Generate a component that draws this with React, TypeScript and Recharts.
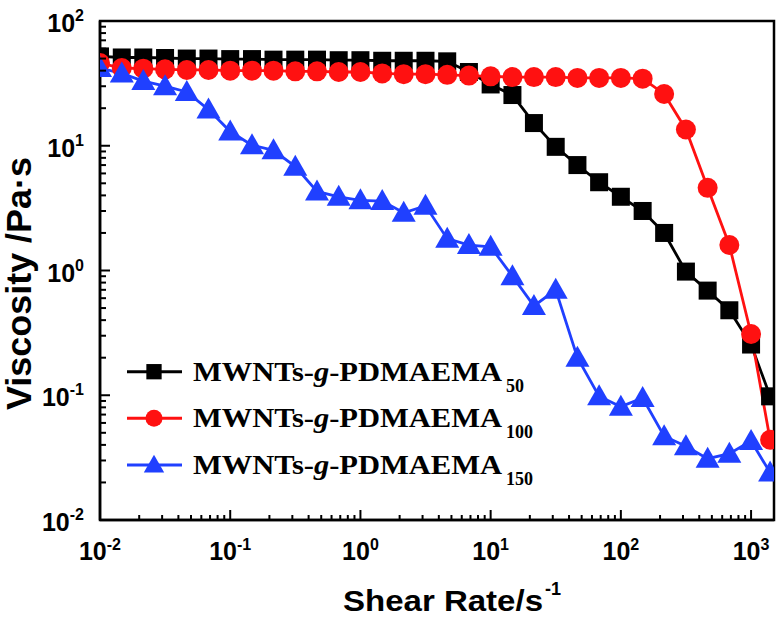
// Shear viscosity of the three MWNTs-g-PDMAEMA grafts on log-log axes,
// drawn with inward ticks and a boxed frame like the original figure.

import { Legend, Line, LineChart, ReferenceArea, XAxis, YAxis } from "recharts";

const SANS = "'Liberation Sans', Arial, Helvetica, sans-serif";
const SERIF = "'Liberation Serif', 'Times New Roman', Times, serif";

// shear rate, s^-1
const SHEAR_RATE = [
  0.01, 0.0147, 0.0215, 0.0316, 0.0464, 0.0681, 0.1, 0.147, 0.215, 0.316, 0.464, 0.681,
  1, 1.47, 2.15, 3.16, 4.64, 6.81, 10, 14.7, 21.5, 31.6, 46.4, 68.1, 100, 147, 215, 316,
  464, 681, 1000, 1400,
];

// viscosity, Pa·s
const ETA_50 = [
  52, 51, 51, 50.5, 50, 50, 49.5, 49.5, 49, 49, 49, 48.5, 48.5, 48, 48, 48, 47.5, 39, 31,
  25.5, 15.2, 9.8, 7.0, 5.1, 3.9, 3.0, 2.0, 0.98, 0.69, 0.48, 0.255, 0.098,
];
const ETA_100 = [
  46, 42, 41.5, 41, 40.5, 40.5, 40, 40, 40, 39.5, 39.5, 39, 39, 38, 37.5, 37.5, 37, 36.5,
  36, 35.5, 35.5, 35.5, 35, 35, 35, 34.5, 26, 13.5, 4.6, 1.6, 0.31, 0.044,
];
const ETA_150 = [
  42, 38, 33, 30, 27, 19.5, 13, 10.1, 9.2, 6.8, 4.3, 3.9, 3.65, 3.6, 2.9, 3.3, 1.8, 1.6,
  1.55, 0.9, 0.52, 0.7, 0.2, 0.098, 0.081, 0.095, 0.047, 0.039, 0.031, 0.034, 0.043, 0.024,
];

const X_MAJOR = [0.01, 0.1, 1, 10, 100, 1000];
const X_MINOR = [
  0.02, 0.03, 0.04, 0.05, 0.06, 0.07, 0.08, 0.09, 0.2, 0.3, 0.4, 0.5, 0.6, 0.7, 0.8, 0.9,
  2, 3, 4, 5, 6, 7, 8, 9, 20, 30, 40, 50, 60, 70, 80, 90, 200, 300, 400, 500, 600, 700,
  800, 900,
];
const Y_MAJOR = [0.01, 0.1, 1, 10, 100];
const Y_MINOR = [
  0.02, 0.03, 0.04, 0.05, 0.06, 0.07, 0.08, 0.09, 0.2, 0.3, 0.4, 0.5, 0.6, 0.7, 0.8, 0.9,
  2, 3, 4, 5, 6, 7, 8, 9, 20, 30, 40, 50, 60, 70, 80, 90,
];

const SERIES = [
  { key: "pd50", sub: "50", color: "#000000", shape: "square" },
  { key: "pd100", sub: "100", color: "#ff1111", shape: "circle" },
  { key: "pd150", sub: "150", color: "#2040ff", shape: "triangle" },
];

const data = SHEAR_RATE.map((x, i) => ({
  x,
  pd50: ETA_50[i],
  pd100: ETA_100[i],
  pd150: ETA_150[i],
}));

function Marker({ shape, cx, cy, color, s = 1 }: any) {
  if (shape === "square") {
    return <rect x={cx - 9 * s} y={cy - 9 * s} width={18 * s} height={18 * s} fill={color} />;
  }
  if (shape === "circle") {
    return <circle cx={cx} cy={cy} r={10 * s} fill={color} />;
  }
  const pts = `${cx},${cy - 12 * s} ${cx - 12 * s},${cy + 9 * s} ${cx + 12 * s},${cy + 9 * s}`;
  return <polygon points={pts} fill={color} />;
}

const expOf = (v: number) => String(Math.round(Math.log10(v)));

function XTick({ x, y, payload }: any) {
  const v = payload.value;
  const major = X_MAJOR.includes(v);
  return (
    <g>
      <line x1={x} x2={x} y1={y} y2={y - (major ? 10 : 5)} stroke="#000" strokeWidth={2} />
      {major && (
        <text x={x} y={y + 40} textAnchor="middle" fontFamily={SANS} fontWeight="bold" fontSize={25} fill="#000">
          10
          <tspan dy={-10} fontSize={16}>
            {expOf(v)}
          </tspan>
        </text>
      )}
    </g>
  );
}

function YTick({ x, y, payload }: any) {
  const v = payload.value;
  const major = Y_MAJOR.includes(v);
  return (
    <g>
      <line x1={x} x2={x + (major ? 10 : 6)} y1={y} y2={y} stroke="#000" strokeWidth={2} />
      {major && (
        <text x={x - 16} y={y + 11} textAnchor="end" fontFamily={SANS} fontWeight="bold" fontSize={25} fill="#000">
          10
          <tspan dy={-11} fontSize={16}>
            {expOf(v)}
          </tspan>
        </text>
      )}
    </g>
  );
}

function XTitle() {
  return (
    <g fontFamily={SANS} fontWeight="bold" fill="#000">
      <text x={343} y={611} fontSize={30} textLength={200} lengthAdjust="spacingAndGlyphs">
        Shear Rate/s
      </text>
      <text x={545} y={595} fontSize={18}>
        -1
      </text>
    </g>
  );
}

function YTitle() {
  return (
    <text
      x={31}
      y={283.5}
      transform="rotate(-90 31 283.5)"
      textAnchor="middle"
      fontFamily={SANS}
      fontWeight="bold"
      fontSize={35}
      fill="#000"
      textLength={253}
      lengthAdjust="spacingAndGlyphs"
    >
      Viscosity /Pa·s
    </text>
  );
}

function LegendBox() {
  return (
    <svg width={440} height={150} style={{ display: "block" }}>
      {SERIES.map((s, i) => {
        const cy = 26.7 + i * 46.6;
        return (
          <g key={s.key}>
            <line x1={17} x2={72} y1={cy} y2={cy} stroke={s.color} strokeWidth={3} />
            <Marker shape={s.shape} cx={44} cy={cy} color={s.color} s={0.85} />
            <text
              x={83}
              y={cy + 9}
              fontFamily={SERIF}
              fontWeight="bold"
              fontSize={28}
              fill="#000"
              textLength={309}
              lengthAdjust="spacingAndGlyphs"
            >
              MWNTs-<tspan fontStyle="italic">g</tspan>-PDMAEMA
            </text>
            <text x={396} y={cy + 20} fontFamily={SERIF} fontWeight="bold" fontSize={18} fill="#000">
              {s.sub}
            </text>
          </g>
        );
      })}
    </svg>
  );
}

export default function App() {
  return (
    <div style={{ position: "absolute", left: 0, top: 0, width: 779, height: 617, background: "#fff" }}>
      <LineChart width={779} height={617} data={data} margin={{ top: 21, right: 5, bottom: 0, left: 0 }}>
        <XAxis
          dataKey="x"
          type="number"
          scale="log"
          domain={[0.01, 1500]}
          ticks={[...X_MAJOR, ...X_MINOR]}
          interval={0}
          tick={<XTick />}
          tickLine={false}
          tickSize={0}
          tickMargin={0}
          height={97}
          axisLine={{ stroke: "#000", strokeWidth: 2.5 }}
          allowDataOverflow
          label={<XTitle />}
        />
        <YAxis
          type="number"
          scale="log"
          domain={[0.01, 100]}
          ticks={[...Y_MAJOR, ...Y_MINOR]}
          interval={0}
          tick={<YTick />}
          tickLine={false}
          tickSize={0}
          tickMargin={0}
          width={100}
          axisLine={{ stroke: "#000", strokeWidth: 2.5 }}
          allowDataOverflow
          label={<YTitle />}
        />
        <ReferenceArea
          x1={0.01}
          x2={1500}
          y1={0.01}
          y2={100}
          fill="none"
          fillOpacity={0}
          stroke="#000"
          strokeWidth={2.5}
          strokeOpacity={1}
        />
        {SERIES.map((s) => (
          <Line
            key={s.key}
            dataKey={s.key}
            stroke={s.color}
            strokeWidth={2.8}
            isAnimationActive={false}
            activeDot={false}
            dot={(p: any) => (
              <Marker key={`${s.key}-${p.index}`} shape={s.shape} cx={p.cx} cy={p.cy} color={s.color} />
            )}
          />
        ))}
        <Legend
          layout="horizontal"
          verticalAlign="middle"
          align="center"
          content={() => <LegendBox />}
          wrapperStyle={{ left: 110, top: 345, width: 440, height: 150 }}
        />
      </LineChart>
    </div>
  );
}
